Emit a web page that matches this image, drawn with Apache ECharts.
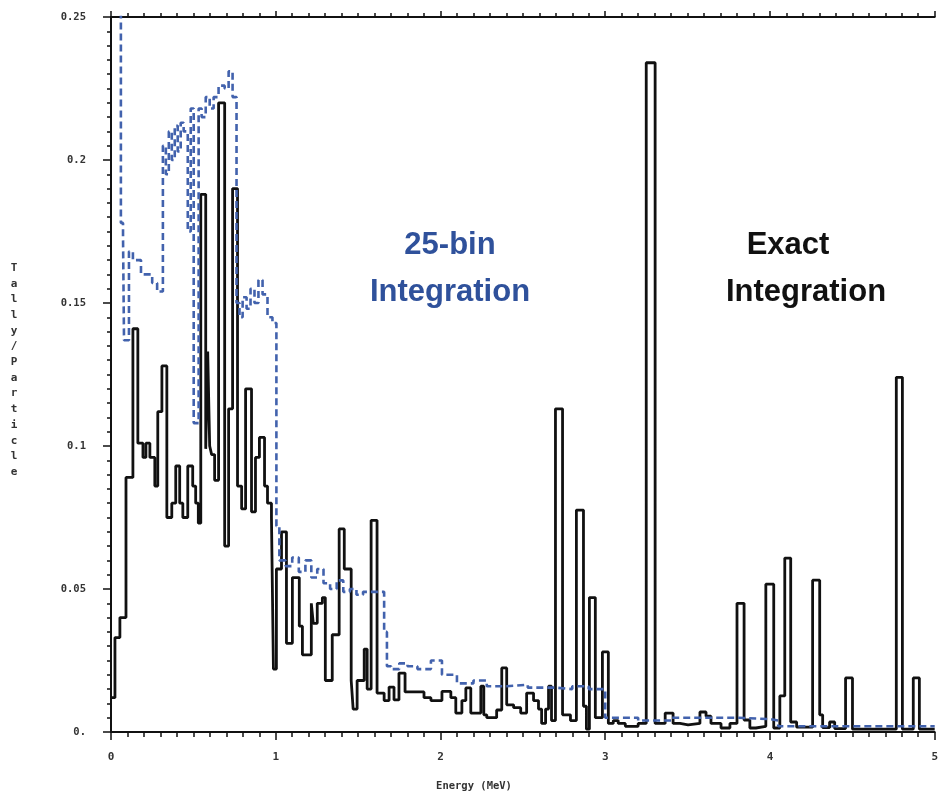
<!DOCTYPE html>
<html>
<head>
<meta charset="utf-8">
<script src="https://cdn.jsdelivr.net/npm/echarts@6/dist/echarts.min.js"></script>
<style>html,body{margin:0;padding:0;background:#fff}#c{width:941px;height:794px}</style>
</head>
<body>
<div id="c"></div>
<script>
// Exact integration (black): bin left edges (MeV) and tally values
const exactEdges = [0,0.024,0.054,0.091,0.133,0.163,0.194,0.212,0.236,0.266,0.284,0.309,0.339,0.369,0.393,0.417,0.436,0.466,0.496,0.514,0.530,
0.545,0.575,0.587,0.599,0.611,0.629,0.653,0.690,0.714,0.738,0.768,0.793,0.817,0.853,0.877,0.901,0.932,0.950,0.974,0.986,
1.004,1.035,1.065,1.101,1.143,1.162,1.216,1.228,1.252,1.283,1.301,1.343,1.385,1.416,1.458,1.470,1.494,1.537,1.555,1.579,
1.615,1.658,1.688,1.718,1.748,1.785,1.900,1.942,2.009,2.063,2.093,2.130,2.154,2.184,2.245,2.263,2.281,2.341,2.372,2.402,
2.444,2.487,2.523,2.565,2.595,2.614,2.638,2.656,2.674,2.698,2.741,2.789,2.825,2.868,2.886,2.904,2.940,2.983,3.019,3.049,
3.079,3.122,3.200,3.249,3.303,3.364,3.412,3.454,3.503,3.575,3.612,3.642,3.703,3.757,3.800,3.843,3.878,3.914,3.975,4.023,
4.060,4.090,4.126,4.162,4.259,4.302,4.320,4.362,4.393,4.459,4.501,4.767,4.804,4.870,4.907,5.0];
const exactValues = [0.012,0.033,0.040,0.089,0.141,0.101,0.096,0.101,0.096,0.086,0.112,0.128,0.075,0.080,0.093,0.080,0.075,0.093,0.086,0.080,0.073,
0.188,0.099,0.133,0.100,0.097,0.088,0.220,0.065,0.113,0.190,0.086,0.078,0.120,0.077,0.096,0.103,0.086,0.080,0.075,0.022,
0.057,0.070,0.031,0.054,0.037,0.027,0.045,0.038,0.045,0.047,0.018,0.034,0.071,0.057,0.018,0.008,0.018,0.029,0.015,0.074,
0.0136,0.011,0.0157,0.0112,0.0206,0.014,0.012,0.011,0.0142,0.012,0.0066,0.011,0.0154,0.0066,0.016,0.006,0.005,0.0077,0.0224,0.0095,
0.0085,0.0066,0.0136,0.011,0.008,0.003,0.008,0.016,0.004,0.113,0.006,0.004,0.0776,0.009,0.001,0.047,0.005,0.028,0.003,0.004,
0.003,0.002,0.003,0.234,0.003,0.0066,0.003,0.0025,0.003,0.007,0.0055,0.003,0.0014,0.003,0.045,0.0042,0.0014,0.002,0.0517,0.0014,
0.0126,0.0608,0.0035,0.0017,0.0531,0.006,0.0015,0.0035,0.0012,0.0189,0.001,0.124,0.001,0.0189,0.001,0.001];

// 25-bin integration (blue dashed)
const binEdges = [0,0.060,0.073,0.079,0.109,0.133,0.182,0.250,0.280,0.315,0.333,0.351,0.369,0.387,0.405,0.423,0.441,0.466,0.484,0.502,0.532,
0.550,0.575,0.599,0.623,0.653,0.690,0.714,0.738,0.762,0.780,0.799,0.823,0.847,0.871,0.895,0.920,0.950,0.980,1.004,1.022,
1.060,1.100,1.140,1.180,1.216,1.252,1.290,1.330,1.370,1.410,1.450,1.490,1.530,1.658,1.675,1.700,1.750,1.800,1.860,1.942,
2.009,2.100,2.200,2.281,2.400,2.530,2.700,2.800,2.900,3.000,3.200,3.400,3.600,3.800,4.000,4.050,5.0];
const binValues = [0.26,0.178,0.173,0.137,0.168,0.165,0.160,0.157,0.154,0.205,0.195,0.210,0.200,0.212,0.203,0.213,0.210,0.175,0.218,0.108,0.218,
0.215,0.222,0.218,0.222,0.226,0.225,0.231,0.222,0.150,0.145,0.152,0.148,0.155,0.150,0.158,0.153,0.145,0.143,0.072,0.060,
0.058,0.061,0.056,0.060,0.054,0.057,0.052,0.050,0.053,0.049,0.050,0.048,0.049,0.035,0.023,0.022,0.024,0.023,0.022,0.025,
0.020,0.017,0.018,0.016,0.0165,0.0155,0.015,0.016,0.015,0.005,0.004,0.005,0.005,0.0045,0.004,0.002,0.002];

const xTickLabels = ['0','1','2','3','4','5'];
const yTickLabels = ['0.','0.05','0.1','0.15','0.2','0.25'];

const toPts = (e, v) => e.map((x, i) => [x, v[i]]);

const mono = 'DejaVu Sans Mono';
const axisCol = '#111';
const chart = echarts.init(document.getElementById('c'));
chart.setOption({
  animation: false,
  backgroundColor: '#fff',
  grid: {left: 111, right: 4, top: 17, bottom: 62, containLabel: false},
  xAxis: [{
    type: 'value', min: 0, max: 5, interval: 1, position: 'bottom',
    axisLine: {show: true, lineStyle: {color: axisCol, width: 2}},
    axisTick: {show: true, length: 8, lineStyle: {color: axisCol, width: 1.5}},
    minorTick: {show: true, splitNumber: 10, length: 5, lineStyle: {color: axisCol, width: 1.5}},
    splitLine: {show: false},
    axisLabel: {margin: 20, fontFamily: mono, fontSize: 11, fontWeight: 'bold', color: '#333',
      formatter: v => xTickLabels[Math.round(v)]}
  }, {
    type: 'value', min: 0, max: 5, interval: 1, position: 'top',
    axisLine: {show: true, lineStyle: {color: axisCol, width: 2}},
    axisTick: {show: true, length: 6, lineStyle: {color: axisCol, width: 1.5}},
    minorTick: {show: true, splitNumber: 10, length: 4, lineStyle: {color: axisCol, width: 1.5}},
    splitLine: {show: false},
    axisLabel: {show: false}
  }],
  yAxis: {
    type: 'value', min: 0, max: 0.25, interval: 0.05,
    axisLine: {show: true, lineStyle: {color: axisCol, width: 2}},
    axisTick: {show: true, length: 8, lineStyle: {color: axisCol, width: 1.5}},
    minorTick: {show: true, splitNumber: 10, length: 4, lineStyle: {color: axisCol, width: 1.5}},
    splitLine: {show: false},
    axisLabel: {margin: 25, fontFamily: mono, fontSize: 10.5, fontWeight: 'bold', color: '#333',
      formatter: v => yTickLabels[Math.round(v / 0.05)]}
  },
  series: [{
    name: 'Exact Integration', type: 'line', step: 'end', symbol: 'none', clip: true,
    xAxisIndex: 0,
    lineStyle: {color: '#111', width: 2.8},
    data: toPts(exactEdges, exactValues)
  }, {
    name: '25-bin Integration', type: 'line', step: 'end', symbol: 'none', clip: true,
    xAxisIndex: 0,
    lineStyle: {color: '#4262ad', width: 2.6, type: [7, 4]},
    data: toPts(binEdges, binValues)
  }],
  graphic: [
    {type: 'text', x: 450, y: 245, style: {text: '25-bin', fill: '#2f519b', font: 'bold 31px "Liberation Sans", Arial', textAlign: 'center', textVerticalAlign: 'middle'}},
    {type: 'text', x: 450, y: 292, style: {text: 'Integration', fill: '#2f519b', font: 'bold 31px "Liberation Sans", Arial', textAlign: 'center', textVerticalAlign: 'middle'}},
    {type: 'text', x: 788, y: 245, style: {text: 'Exact', fill: '#111', font: 'bold 31px "Liberation Sans", Arial', textAlign: 'center', textVerticalAlign: 'middle'}},
    {type: 'text', x: 806, y: 292, style: {text: 'Integration', fill: '#111', font: 'bold 31px "Liberation Sans", Arial', textAlign: 'center', textVerticalAlign: 'middle'}},
    {type: 'text', x: 14, y: 370, style: {text: 'Tally/Particle'.split('').join('\n'), fill: '#333', font: 'bold 11px "DejaVu Sans Mono"', lineHeight: 15.7, textAlign: 'center', textVerticalAlign: 'middle'}},
    {type: 'text', x: 474, y: 786, style: {text: 'Energy (MeV)', fill: '#333', font: 'bold 10.5px "DejaVu Sans Mono"', textAlign: 'center', textVerticalAlign: 'middle'}}
  ]
});
</script>
</body>
</html>
